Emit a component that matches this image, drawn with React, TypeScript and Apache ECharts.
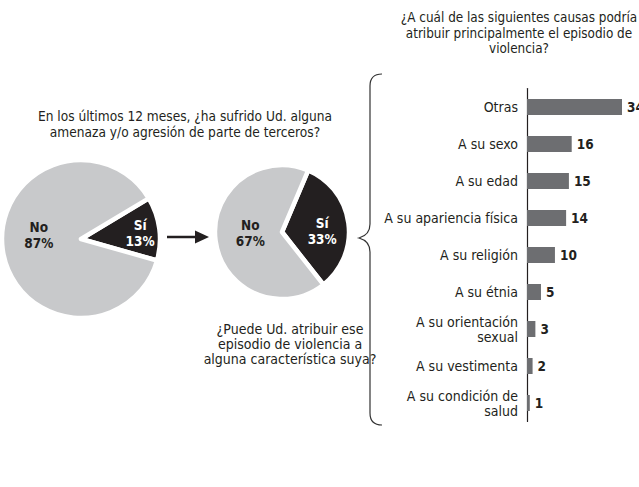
import React, { useEffect, useRef } from "react";
import * as echarts from "echarts";

const FONT = "'Liberation Sans Narrow', 'DejaVu Sans Condensed', 'Roboto Condensed', sans-serif";

const pie1Names = ["Sí", "No"];
const pie1Values = [13, 87];
const pie2Names = ["Sí", "No"];
const pie2Values = [33, 67];

const causes = [
  "Otras",
  "A su sexo",
  "A su edad",
  "A su apariencia física",
  "A su religión",
  "A su étnia",
  "A su orientación\nsexual",
  "A su vestimenta",
  "A su condición de\nsalud",
];
const causeValues = [34, 16, 15, 14, 10, 5, 3, 2, 1];

const titleLeft = "En los últimos 12 meses, ¿ha sufrido Ud. alguna\namenaza y/o agresión de parte de terceros?";
const titleRight = "¿A cuál de las siguientes causas podría\natribuir principalmente el episodio de\nviolencia?";
const titleMiddle = "¿Puede Ud. atribuir ese\nepisodio de violencia a\nalguna característica suya?";

const DARK = "#231f20";
const LIGHT = "#c8c9cb";
const BAR = "#6d6e71";

const braceD =
  "M382,74 Q370,74 370,86 L370,224 Q370,235 359,238 Q370,241 370,252 L370,413 Q370,425 382,425";

export default function App() {
  const ref = useRef<HTMLDivElement>(null);
  useEffect(() => {
    if (!ref.current) return;
    try {
      echarts.graphic.registerShape("brace", echarts.graphic.extendPath(braceD, {}) as any);
    } catch (e) {}
    const chart = echarts.init(ref.current, null, { renderer: "svg" });
    const pieLabel = (color: string) => ({
      show: true,
      position: "inside" as const,
      formatter: (p: any) => `${p.name}\n${p.value}%`,
      color,
      fontFamily: FONT,
      fontWeight: "bold" as const,
      fontSize: 13.5,
      lineHeight: 16,
    });
    const mkData = (names: string[], values: number[]) =>
      names.map((n, i) => ({
        name: n,
        value: values[i],
        itemStyle: { color: i === 0 ? DARK : LIGHT },
        label: pieLabel(i === 0 ? "#ffffff" : DARK),
      }));
    chart.setOption({
      animation: false,
      title: [
        {
          text: titleLeft,
          left: 180,
          top: 103,
          textAlign: "center",
          textStyle: { fontFamily: FONT, fontSize: 13.6, fontWeight: "normal", color: DARK, lineHeight: 16 },
        },
        {
          text: titleRight,
          left: 514,
          top: 5,
          textAlign: "center",
          textStyle: { fontFamily: FONT, fontSize: 13.4, fontWeight: "normal", color: DARK, lineHeight: 15.5 },
        },
        {
          text: titleMiddle,
          left: 285,
          top: 316,
          textAlign: "center",
          textStyle: { fontFamily: FONT, fontSize: 14, fontWeight: "normal", color: DARK, lineHeight: 15 },
        },
      ],
      grid: { left: 527, top: 88.5, width: 95, height: 333, containLabel: false },
      xAxis: { type: "value", min: 0, max: 34, show: false },
      yAxis: {
        type: "category",
        data: causes,
        inverse: true,
        axisLine: { show: true, lineStyle: { color: DARK, width: 1.2 } },
        axisTick: { show: false },
        axisLabel: {
          margin: 9,
          color: DARK,
          fontFamily: FONT,
          fontSize: 14,
          lineHeight: 15,
          align: "right",
        },
      },
      series: [
        {
          type: "bar",
          data: causeValues,
          barWidth: 16,
          itemStyle: { color: BAR },
          label: {
            show: true,
            position: "right",
            distance: 5,
            color: DARK,
            fontFamily: FONT,
            fontWeight: "bold",
            fontSize: 13.5,
          },
        },
        {
          type: "pie",
          center: [81, 239],
          radius: 79,
          startAngle: 31,
          clockwise: true,
          data: mkData(pie1Names, pie1Values),
          itemStyle: { borderColor: "#ffffff", borderWidth: 4.5 },
          labelLine: { show: false },
          labelLayout: (p: any) => (p.dataIndex === 0 ? { dx: 17, dy: 0 } : { dx: 0, dy: -10 }),
          emphasis: { disabled: true },
          silent: true,
        },
        {
          type: "pie",
          center: [282, 232],
          radius: 67,
          startAngle: 67,
          clockwise: true,
          data: mkData(pie2Names, pie2Values),
          itemStyle: { borderColor: "#ffffff", borderWidth: 4.5 },
          labelLine: { show: false },
          labelLayout: (p: any) => (p.dataIndex === 0 ? { dx: 4, dy: 4 } : { dx: 4.5, dy: -3.5 }),
          emphasis: { disabled: true },
          silent: true,
        },
      ],
      graphic: [
        {
          type: "line",
          shape: { x1: 167, y1: 237, x2: 197, y2: 237 },
          style: { stroke: DARK, lineWidth: 2.5 },
        },
        {
          type: "polygon",
          shape: { points: [[195, 230.5], [209, 237], [195, 243.5]] },
          style: { fill: DARK },
        },
        {
          type: "brace",
          x: 0,
          y: 0,
          style: { stroke: "#333333", lineWidth: 1.2, fill: "none" },
        },
      ],
    });
    return () => chart.dispose();
  }, []);
  return (
    <div
      ref={ref}
      style={{ position: "absolute", left: 0, top: 0, width: 639, height: 487, background: "#ffffff" }}
    />
  );
}
